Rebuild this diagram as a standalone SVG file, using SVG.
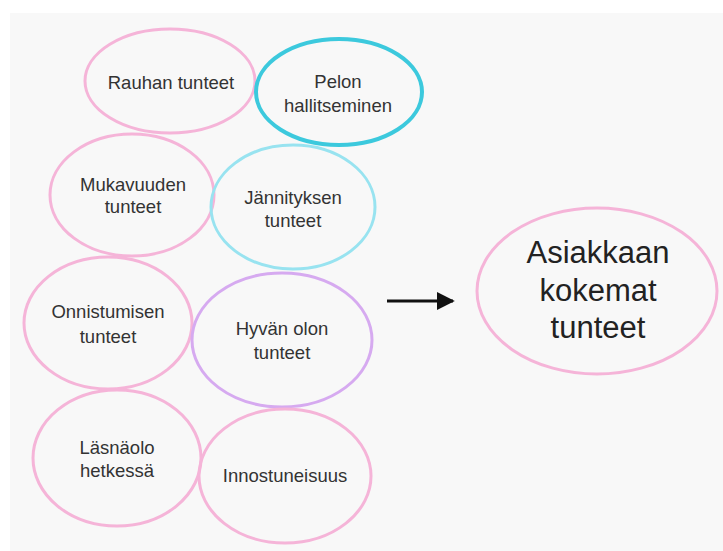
<svg xmlns="http://www.w3.org/2000/svg" width="723" height="551" viewBox="0 0 723 551">
  <defs>
    <marker id="arrowhead" viewBox="0 0 10 10" refX="9" refY="5" markerWidth="6" markerHeight="6" orient="auto" markerUnits="strokeWidth">
      <path d="M0,0 L10,5 L0,10 Z" fill="#111"/>
    </marker>
    <style>
      .bubble { fill: none; stroke-width: 3; }
      .pink { stroke: #f5b4d8; }
      .cyan { stroke: #3cc9dd; stroke-width: 4; }
      .lightcyan { stroke: #98e3f0; }
      .lilac { stroke: #d6aaf0; }
      .label { font-family: "Liberation Sans", Arial, sans-serif; font-size: 18.5px; fill: #333; text-anchor: middle; }
      .big { font-family: "Liberation Sans", Arial, sans-serif; font-size: 31px; fill: #222; text-anchor: middle; }
    </style>
  </defs>

  <rect width="723" height="551" fill="#ffffff"/>
  <rect x="10" y="13" width="713" height="538" fill="#f8f8f8"/>

  <g id="rauhan">
    <ellipse class="bubble pink" cx="170" cy="81" rx="85" ry="52"/>
    <text class="label" x="171" y="89">Rauhan tunteet</text>
  </g>
  <g id="pelon">
    <ellipse class="bubble cyan" cx="339" cy="92" rx="83" ry="53"/>
    <text class="label" x="338" y="88">Pelon</text>
    <text class="label" x="338" y="112">hallitseminen</text>
  </g>
  <g id="mukavuuden">
    <ellipse class="bubble pink" cx="132" cy="195" rx="82" ry="61"/>
    <text class="label" x="133" y="191">Mukavuuden</text>
    <text class="label" x="133" y="213">tunteet</text>
  </g>
  <g id="jannityksen">
    <ellipse class="bubble lightcyan" cx="293" cy="207" rx="82" ry="62"/>
    <text class="label" x="293" y="204">Jännityksen</text>
    <text class="label" x="293" y="227">tunteet</text>
  </g>
  <g id="onnistumisen">
    <ellipse class="bubble pink" cx="108" cy="323" rx="84" ry="66"/>
    <text class="label" x="108" y="318">Onnistumisen</text>
    <text class="label" x="108" y="343">tunteet</text>
  </g>
  <g id="hyvan">
    <ellipse class="bubble lilac" cx="282" cy="340" rx="90" ry="67"/>
    <text class="label" x="282" y="335">Hyvän olon</text>
    <text class="label" x="282" y="359">tunteet</text>
  </g>
  <g id="lasnaolo">
    <ellipse class="bubble pink" cx="117" cy="458" rx="84" ry="68"/>
    <text class="label" x="117" y="454">Läsnäolo</text>
    <text class="label" x="117" y="477">hetkessä</text>
  </g>
  <g id="innostuneisuus">
    <ellipse class="bubble pink" cx="285" cy="476" rx="86" ry="67"/>
    <text class="label" x="285" y="482">Innostuneisuus</text>
  </g>
  <g id="asiakkaan">
    <ellipse class="bubble pink" cx="597" cy="291" rx="120" ry="83"/>
    <text class="big" x="598" y="263">Asiakkaan</text>
    <text class="big" x="598" y="301">kokemat</text>
    <text class="big" x="598" y="338">tunteet</text>
  </g>

  <g id="connectors">
    <line x1="387" y1="301" x2="453" y2="301" stroke="#111" stroke-width="3" marker-end="url(#arrowhead)"/>
  </g>
</svg>
